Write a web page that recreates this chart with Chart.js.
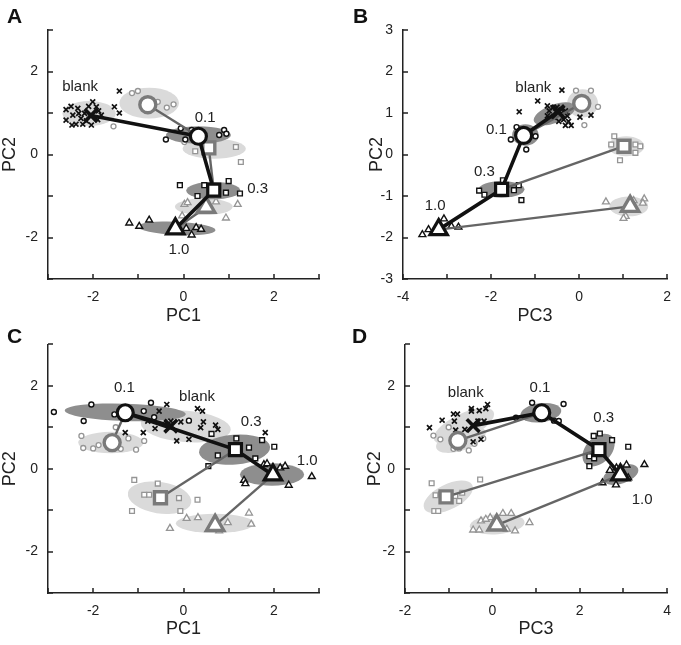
<!DOCTYPE html>
<html>
<head>
<meta charset="utf-8">
<script src="https://cdn.jsdelivr.net/npm/chart.js@4.4.1/dist/chart.umd.min.js"></script>
<style>
  html, body { margin: 0; padding: 0; background: #fff; }
  #fig { position: relative; width: 681px; height: 645px; overflow: hidden; }
  #fig canvas { position: absolute; }
  .letter { position: absolute; font: bold 21px/21px "Liberation Sans", Arial, sans-serif; color: #111; }
</style>
</head>
<body>
<div id="fig">
  <canvas id="cA" width="340" height="326" style="left:0;top:0"></canvas>
  <canvas id="cB" width="341" height="326" style="left:340px;top:0"></canvas>
  <canvas id="cC" width="340" height="319" style="left:0;top:326px"></canvas>
  <canvas id="cD" width="341" height="319" style="left:340px;top:326px"></canvas>
  <div class="letter" style="left:7px;top:5px">A</div>
  <div class="letter" style="left:353px;top:5px">B</div>
  <div class="letter" style="left:7px;top:325px">C</div>
  <div class="letter" style="left:352px;top:325px">D</div>
</div>
<script>
/* ---------- data: group order is blank, 0.1, 0.3, 1.0 (black) then 0.1, 0.3, 1.0 (grey) ---------- */

/* Panel A : PC1 vs PC2 */
const A_blank = [[-2.60,1.08],[-2.49,1.16],[-2.34,1.11],[-2.45,0.95],[-2.60,0.83],[-2.47,0.71],[-2.38,0.73],[-2.27,0.87],
  [-2.19,0.99],[-2.15,0.81],[-2.04,0.71],[-1.93,1.15],[-1.88,1.05],[-1.90,0.84],[-2.01,1.27],[-2.10,1.16],[-1.53,1.15],
  [-1.42,1.00],[-1.42,1.53],[-2.32,0.99],[-2.23,0.73],[-1.82,0.95]];
const A_b01 = [[-0.39,0.36],[-0.06,0.63],[0.04,0.36],[0.18,0.59],[0.79,0.47],[0.90,0.59],[0.95,0.50]];
const A_b03 = [[-0.08,-0.74],[0.46,-0.74],[1.00,-0.64],[0.94,-0.92],[1.25,-0.94],[0.31,-1.00]];
const A_b10 = [[-1.20,-1.65],[-0.98,-1.73],[-0.76,-1.58],[0.06,-1.78],[0.28,-1.76],[0.39,-1.80],[0.18,-1.94]];
const A_g01 = [[-1.14,1.48],[-1.01,1.53],[-0.57,1.27],[-0.37,1.13],[-0.22,1.21],[-1.55,0.68],[0.02,0.30]];
const A_g03 = [[0.26,0.08],[1.16,0.18],[1.27,-0.18]];
const A_g10 = [[0.02,-1.20],[0.09,-1.16],[0.72,-1.14],[1.20,-1.20],[0.94,-1.53],[-0.03,-1.48]];
const A_mean = [[-2.05,0.94],[0.33,0.44],[0.67,-0.86],[-0.18,-1.79],[-0.79,1.20],[0.56,0.16],[0.50,-1.27]];
const A_ell = [[-2.09,0.99,0.59,0.30,0],[0.33,0.47,0.72,0.21,0],[0.66,-0.87,0.60,0.21,0],[-0.15,-1.78,0.86,0.16,-3],
  [-0.76,1.24,0.66,0.37,0],[0.68,0.14,0.70,0.24,0],[0.45,-1.26,0.64,0.20,0]];
const A_lbl = [['blank',-2.29,1.64],['0.1',0.48,0.89],['0.3',1.64,-0.82],['1.0',-0.10,-2.30]];

/* Panel B : PC3 vs PC2 */
const B_blank = [[-0.94,1.29],[-1.36,1.03],[-0.39,1.55],[0.27,0.95],[0.02,0.90],[-0.18,0.70],[-0.31,0.70],
  [-0.72,1.17],[-0.59,1.13],[-0.50,1.14],[-0.39,1.09],[-0.31,1.05],[-0.68,1.05],[-0.53,1.03],[-0.42,0.98],
  [-0.72,0.93],[-0.27,0.93],[-0.35,0.84],[-0.24,0.80],[-0.46,0.80],[-0.57,0.90]];
const B_b01 = [[-1.42,0.66],[-1.55,0.36],[-0.99,0.44],[-1.20,0.12]];
const B_b03 = [[-1.73,-0.62],[-2.27,-0.87],[-2.15,-0.97],[-1.48,-0.86],[-1.37,-0.74],[-1.31,-1.10]];
const B_b10 = [[-3.56,-1.93],[-3.42,-1.81],[-3.07,-1.55],[-2.74,-1.75],[-2.90,-1.73]];
const B_g01 = [[-0.07,1.54],[0.27,1.54],[0.43,1.15],[0.12,0.71],[-0.10,1.17]];
const B_g03 = [[0.80,0.44],[0.73,0.24],[1.28,0.24],[1.39,0.20],[1.28,0.04],[0.93,-0.14]];
const B_g10 = [[0.61,-1.14],[1.24,-1.11],[1.48,-1.07],[1.45,-1.17],[1.06,-1.49],[1.01,-1.54]];
const B_mean = [[-0.48,1.03],[-1.26,0.46],[-1.76,-0.84],[-3.19,-1.81],[0.06,1.23],[1.02,0.20],[1.16,-1.25]];
const B_ell = [[-0.56,0.98,0.50,0.22,22],[-1.22,0.47,0.30,0.26,0],[-1.76,-0.84,0.52,0.20,0],null,
  [0.08,1.23,0.35,0.34,0],[1.07,0.20,0.41,0.24,0],[1.13,-1.25,0.44,0.24,0]];
const B_lbl = [['blank',-1.04,1.61],['0.1',-1.88,0.59],['0.3',-2.15,-0.42],['1.0',-3.27,-1.23]];

/* Panel C : PC1 vs PC2 */
const C_blank = [[-0.37,1.55],[-0.54,1.39],[-0.79,1.15],[-0.89,0.87],[-0.63,0.97],[-0.28,1.15],[-0.06,1.13],
  [-0.15,0.67],[0.12,0.71],[0.31,1.45],[0.42,1.39],[0.44,1.13],[0.38,0.99],[0.71,1.05],[0.76,0.95],[1.81,0.87],[-1.29,0.87]];
const C_b01 = [[-2.87,1.37],[-2.04,1.55],[-2.21,1.15],[-1.53,1.31],[-0.88,1.39],[-0.72,1.59],[-0.65,1.24],[0.12,1.16]];
const C_b03 = [[0.62,0.84],[0.76,0.32],[1.17,0.73],[1.45,0.51],[1.74,0.69],[2.01,0.53],[1.59,0.25],[0.55,0.06]];
const C_b10 = [[1.34,-0.28],[1.37,-0.36],[1.78,0.10],[1.85,0.12],[2.14,0.02],[2.25,0.06],[2.33,-0.40],[2.84,-0.19]];
const C_g01 = [[-2.26,0.79],[-2.22,0.50],[-2.00,0.49],[-1.88,0.57],[-1.50,1.00],[-1.39,0.48],[-1.22,0.73],[-1.05,0.46],[-0.87,0.67]];
const C_g03 = [[-1.09,-0.27],[-0.57,-0.36],[-0.87,-0.63],[-0.76,-0.63],[-0.10,-0.71],[0.31,-0.75],[-1.14,-1.02],[-0.07,-1.02]];
const C_g10 = [[-0.30,-1.44],[0.07,-1.20],[0.32,-1.18],[0.98,-1.30],[1.45,-1.07],[1.50,-1.34],[0.79,-1.50]];
const C_mean = [[-0.28,1.03],[-1.29,1.35],[1.15,0.46],[1.98,-0.15],[-1.58,0.63],[-0.51,-0.70],[0.70,-1.37]];
const C_ell = [[0.05,1.02,1.00,0.38,-5],[-1.29,1.36,1.34,0.21,-2],[1.13,0.46,0.79,0.36,5],[1.96,-0.14,0.71,0.27,0],
  [-1.61,0.63,0.72,0.26,0],[-0.53,-0.70,0.71,0.38,-10],[0.70,-1.32,0.87,0.23,0]];
const C_lbl = [['0.1',-1.31,1.95],['blank',0.30,1.74],['0.3',1.50,1.14],['1.0',2.74,0.19]];

/* Panel D : PC3 vs PC2 */
const D_blank = [[-1.44,0.99],[-1.15,1.17],[-0.89,1.32],[-0.80,1.32],[-0.87,1.15],[-0.48,1.45],[-0.48,1.39],[-0.30,1.40],
  [-0.15,1.45],[-0.11,1.55],[-0.84,0.93],[-0.63,0.95],[-0.33,1.15],[-0.19,1.15],[-0.26,0.71],[-0.44,0.65]];
const D_b01 = [[0.54,1.23],[0.91,1.59],[1.63,1.56],[1.41,1.16],[1.52,1.15]];
const D_b03 = [[2.32,0.79],[2.46,0.85],[2.74,0.69],[3.11,0.53],[2.22,0.30],[2.33,0.25],[2.22,0.06]];
const D_b10 = [[2.69,-0.04],[2.84,0.02],[3.07,0.09],[3.48,0.10],[2.52,-0.34],[2.83,-0.39],[3.11,-0.22]];
const D_g01 = [[-1.35,0.80],[-1.19,0.71],[-1.00,1.00],[-0.89,0.48],[-0.76,0.49],[-0.54,0.44],[-0.41,0.60],[-0.21,0.73]];
const D_g03 = [[-1.39,-0.35],[-0.28,-0.26],[-1.30,-0.64],[-0.85,-0.66],[-0.76,-0.78],[-0.69,-0.58],[-1.33,-1.02],[-1.24,-1.02],[-1.18,-0.62]];
const D_g10 = [[-0.44,-1.48],[-0.26,-1.26],[-0.05,-1.18],[0.24,-1.08],[0.43,-1.08],[0.33,-1.46],[0.52,-1.50],[0.85,-1.30],[-0.30,-1.48],[-0.15,-1.22]];
const D_mean = [[-0.44,1.04],[1.13,1.35],[2.44,0.46],[2.93,-0.15],[-0.79,0.68],[-1.06,-0.68],[0.10,-1.36]];
const D_ell = [[-0.65,1.03,0.76,0.30,27],[1.11,1.35,0.47,0.23,8],[2.43,0.45,0.45,0.30,50],[2.94,-0.14,0.42,0.22,20],
  [-0.72,0.70,0.60,0.26,20],[-1.01,-0.68,0.62,0.30,28],[0.11,-1.34,0.63,0.24,5]];
const D_lbl = [['blank',-0.61,1.84],['0.1',1.09,1.95],['0.3',2.55,1.23],['1.0',3.43,-0.76]];

/* ---------- styling ---------- */
const FONT = "'Liberation Sans', Arial, Helvetica, sans-serif";
const BLACK = '#111111';
const GREY_PT = '#959595';
const GREY_MEAN = '#7a7a7a';
const GREY_LINE = '#656565';
const DARK_ELL = '#8e8e8e';
const LIGHT_ELL = '#dadada';

Chart.defaults.font.family = FONT;
Chart.defaults.color = '#222';

const SMALL = [
  { style: 'crossRot', r: 3.5, color: BLACK, bw: 1.7 },
  { style: 'circle',   r: 2.5, color: BLACK, bw: 1.4 },
  { style: 'rect',     r: 3.4, color: BLACK, bw: 1.4 },
  { style: 'triangle', r: 4.0, color: BLACK, bw: 1.4 },
  { style: 'circle',   r: 2.5, color: GREY_PT, bw: 1.3 },
  { style: 'rect',     r: 3.4, color: GREY_PT, bw: 1.3 },
  { style: 'triangle', r: 4.0, color: GREY_PT, bw: 1.3 }
];

const toXY = arr => arr.map(p => ({ x: p[0], y: p[1] }));

/* ellipses behind the markers, defined in data units */
const ellipsePlugin = {
  id: 'ellipses',
  beforeDatasetsDraw(chart, args, opts) {
    const { ctx, chartArea: a, scales: { x, y } } = chart;
    const sx = x.getPixelForValue(1) - x.getPixelForValue(0);
    const sy = y.getPixelForValue(0) - y.getPixelForValue(1);
    ctx.save();
    ctx.beginPath();
    ctx.rect(a.left, a.top, a.right - a.left, a.bottom - a.top);
    ctx.clip();
    // light ones first, dark on top
    const items = opts.items.map((e, i) => ({ e, dark: i === 0 ? opts.blankDark : (i >= 1 && i <= 3) }))
      .filter(o => o.e);
    items.sort((p, q) => p.dark - q.dark);
    items.forEach(({ e, dark }) => {
      const [cx, cy, rx, ry, ang] = e;
      ctx.save();
      ctx.translate(x.getPixelForValue(cx), y.getPixelForValue(cy));
      ctx.scale(sx, -sy);
      ctx.rotate(ang * Math.PI / 180);
      ctx.beginPath();
      ctx.ellipse(0, 0, rx, ry, 0, 0, Math.PI * 2);
      ctx.restore();
      ctx.fillStyle = dark ? DARK_ELL : LIGHT_ELL;
      ctx.fill();
    });
    ctx.restore();
  }
};

/* text labels (blank / 0.1 / 0.3 / 1.0) */
const labelPlugin = {
  id: 'condLabels',
  afterDatasetsDraw(chart, args, opts) {
    const { ctx, scales: { x, y } } = chart;
    ctx.save();
    ctx.font = '15px ' + FONT;
    ctx.fillStyle = '#222';
    ctx.textAlign = 'center';
    ctx.textBaseline = 'middle';
    opts.items.forEach(([t, vx, vy]) => ctx.fillText(t, x.getPixelForValue(vx), y.getPixelForValue(vy)));
    ctx.restore();
  }
};

/* inward tick marks at every integer */
const tickPlugin = {
  id: 'inTicks',
  afterDraw(chart) {
    const { ctx, chartArea: a, scales: { x, y } } = chart;
    ctx.save();
    ctx.strokeStyle = '#222';
    ctx.lineWidth = 1.5;
    ctx.beginPath();
    for (let v = Math.ceil(x.min); v <= x.max; v++) {
      const px = Math.round(x.getPixelForValue(v));
      ctx.moveTo(px, a.bottom); ctx.lineTo(px, a.bottom - 5);
    }
    for (let v = Math.ceil(y.min); v <= y.max; v++) {
      const py = Math.round(y.getPixelForValue(v));
      ctx.moveTo(a.left, py); ctx.lineTo(a.left + 5, py);
    }
    ctx.stroke();
    ctx.restore();
  }
};

function build(P) {
  const pts = P.pts;
  const m = P.means;
  const datasets = [];

  // black trajectory blank -> 0.1 -> 0.3 -> 1.0 with big mean markers
  datasets.push({
    data: toXY(m.slice(0, 4)),
    showLine: true,
    borderColor: BLACK,
    borderWidth: 3.6,
    pointStyle: ['crossRot', 'circle', 'rect', 'triangle'],
    pointRadius: [9, 8, 8.5, 10],
    pointBorderWidth: [3.6, 3.2, 3.2, 3.2],
    pointBorderColor: BLACK,
    pointBackgroundColor: '#fff',
    order: 1
  });
  // grey means
  datasets.push({
    data: toXY(m.slice(4, 7)),
    showLine: false,
    pointStyle: ['circle', 'rect', 'triangle'],
    pointRadius: [8, 8.5, 10],
    pointBorderWidth: 3.4,
    pointBorderColor: GREY_MEAN,
    pointBackgroundColor: '#fff',
    order: 2
  });
  // grey links to the matching black mean
  for (let i = 0; i < 3; i++) {
    datasets.push({
      data: toXY([m[4 + i], m[1 + i]]),
      showLine: true,
      borderColor: GREY_LINE,
      borderWidth: 2.4,
      pointRadius: 0,
      order: 3
    });
  }
  // single trials
  pts.forEach((arr, i) => {
    const s = SMALL[i];
    datasets.push({
      data: toXY(arr),
      showLine: false,
      pointStyle: s.style,
      pointRadius: s.r,
      pointBorderWidth: s.bw,
      pointBorderColor: s.color,
      pointBackgroundColor: '#fff',
      order: 4
    });
  });

  const tickCb = every => v => (Math.round(v) % every === 0 ? String(v) : '');

  new Chart(document.getElementById(P.canvas), {
    type: 'scatter',
    data: { datasets },
    plugins: [ellipsePlugin, labelPlugin, tickPlugin],
    options: {
      responsive: false,
      animation: false,
      events: [],
      layout: { padding: { top: P.padTop, right: P.padRight, left: 0, bottom: 0 } },
      plugins: {
        legend: { display: false },
        tooltip: { enabled: false },
        ellipses: { items: P.ell, blankDark: P.blankDark },
        condLabels: { items: P.lbl }
      },
      scales: {
        x: {
          type: 'linear', min: P.x[0], max: P.x[1],
          grid: { drawOnChartArea: false, drawTicks: false },
          border: { display: true, color: '#222', width: 1.5 },
          ticks: { stepSize: 1, autoSkip: false, maxRotation: 0, padding: 10,
                   font: { size: 14 }, color: '#222', callback: tickCb(P.xEvery) },
          title: { display: true, text: P.xTitle, font: { size: 18, lineHeight: 1 },
                   color: '#222', padding: { top: 0, bottom: P.xTitlePad } },
          afterFit: s => { s.height = P.xH; }
        },
        y: {
          type: 'linear', min: P.y[0], max: P.y[1],
          grid: { drawOnChartArea: false, drawTicks: false },
          border: { display: true, color: '#222', width: 1.5 },
          ticks: { stepSize: 1, autoSkip: false, padding: 10,
                   font: { size: 14 }, color: '#222', callback: tickCb(P.yEvery) },
          title: { display: true, text: P.yTitle, font: { size: 18, lineHeight: 1 },
                   color: '#222', padding: { top: P.yTitlePad, bottom: 0 } },
          afterFit: s => { s.width = P.yW; }
        }
      }
    }
  });
}

build({ canvas: 'cA', x: [-3, 3], y: [-3, 3], xEvery: 2, yEvery: 2, xTitle: 'PC1', yTitle: 'PC2',
  padTop: 30, padRight: 21, yW: 48, xH: 47, xTitlePad: 0.5, yTitlePad: 1.3, blankDark: false,
  pts: [A_blank, A_b01, A_b03, A_b10, A_g01, A_g03, A_g10], means: A_mean, ell: A_ell, lbl: A_lbl });
build({ canvas: 'cB', x: [-4, 2], y: [-3, 3], xEvery: 2, yEvery: 1, xTitle: 'PC3', yTitle: 'PC2',
  padTop: 30, padRight: 8, yW: 63, xH: 47, xTitlePad: 0.5, yTitlePad: 28.5, blankDark: true,
  pts: [B_blank, B_b01, B_b03, B_b10, B_g01, B_g03, B_g10], means: B_mean, ell: B_ell, lbl: B_lbl });
build({ canvas: 'cC', x: [-3, 3], y: [-3, 3], xEvery: 2, yEvery: 2, xTitle: 'PC1', yTitle: 'PC2',
  padTop: 17, padRight: 21, yW: 48, xH: 52, xTitlePad: 6.5, yTitlePad: 1, blankDark: false,
  pts: [C_blank, C_b01, C_b03, C_b10, C_g01, C_g03, C_g10], means: C_mean, ell: C_ell, lbl: C_lbl });
build({ canvas: 'cD', x: [-2, 4], y: [-3, 3], xEvery: 2, yEvery: 2, xTitle: 'PC3', yTitle: 'PC2',
  padTop: 17, padRight: 6, yW: 65, xH: 52, xTitlePad: 6.5, yTitlePad: 26.3, blankDark: false,
  pts: [D_blank, D_b01, D_b03, D_b10, D_g01, D_g03, D_g10], means: D_mean, ell: D_ell, lbl: D_lbl });
</script>
</body>
</html>
